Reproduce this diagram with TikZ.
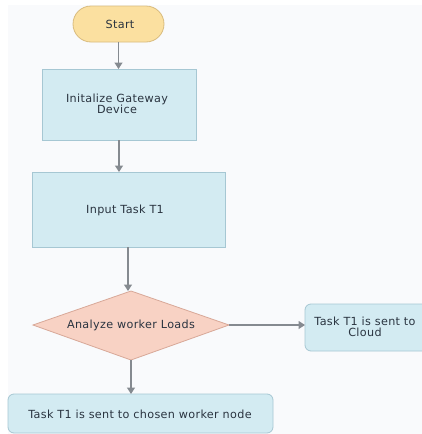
\documentclass[tikz,border=0pt]{standalone}
\usepackage{fontspec}
\setmainfont{DejaVu Sans}[LetterSpace=3]
\usetikzlibrary{shapes.geometric,arrows.meta}
\definecolor{bg}{HTML}{F9FAFC}
\definecolor{boxfill}{HTML}{D3EBF2}
\definecolor{boxline}{HTML}{A6C7D3}
\definecolor{startfill}{HTML}{FBE0A0}
\definecolor{startline}{HTML}{D9BC7E}
\definecolor{dfill}{HTML}{F8D2C4}
\definecolor{dline}{HTML}{D8A898}
\definecolor{arr}{HTML}{858A90}
\definecolor{txt}{HTML}{2A3440}
\tikzset{
  x=1pt, y=-1pt,
  every node/.style={font=\fontsize{11.2}{11.5}\selectfont, text=txt, align=center, inner sep=0pt, outer sep=0pt},
  procbox/.style={draw=boxline, fill=boxfill, line width=0.8pt},
  roundbox/.style={draw=boxline, fill=boxfill, line width=0.8pt, rounded corners=6pt},
  conn/.style={draw=arr, line width=1.2pt, -{Triangle[width=8pt,length=6.5pt]}}
}
\begin{document}
\begin{tikzpicture}
\useasboundingbox (0,0) rectangle (422,434);
\fill[white] (0,0) rectangle (422,434);
\fill[bg] (8,5) rectangle (422,434);
% start
\draw[draw=startline, fill=startfill, line width=0.8pt, rounded corners=18pt] (73,6) rectangle (164,42);
\node (start) at (120,24) {Start};
\coordinate (startb) at (118.5,42);
% box1
\draw[procbox] (42,69) rectangle (196,140);
\node (b1) at (117,104) {Initalize Gateway\\Device};
\coordinate (b1t) at (118.5,69);
\coordinate (b1b) at (119,140);
% box2
\draw[procbox] (32,172) rectangle (225,247);
\node (b2) at (125,210) {Input Task T1};
\coordinate (b2t) at (119,172);
\coordinate (b2b) at (128,247);
% diamond
\draw[draw=dline, fill=dfill, line width=0.8pt] (33,325) -- (131,291) -- (229,325) -- (131,360) -- cycle;
\node (d) at (131,325) {Analyze worker Loads};
\coordinate (dt) at (128,291);
\coordinate (db) at (131,360);
\coordinate (dr) at (229,325);
% cloud
\draw[roundbox] (305,304) rectangle (430,351);
\node (cloud) at (365,327) {Task T1 is sent to\\Cloud};
\coordinate (cl) at (305,325);
% bottom
\draw[roundbox] (8,394) rectangle (273,433);
\node (w) at (140,414) {Task T1 is sent to chosen worker node};
\coordinate (wt) at (131,394);
% connectors
\draw[conn] (startb) -- (b1t);
\draw[conn] (b1b) -- (b2t);
\draw[conn] (b2b) -- (dt);
\draw[conn] (db) -- (wt);
\draw[conn] (dr) -- (cl);
\end{tikzpicture}
\end{document}
